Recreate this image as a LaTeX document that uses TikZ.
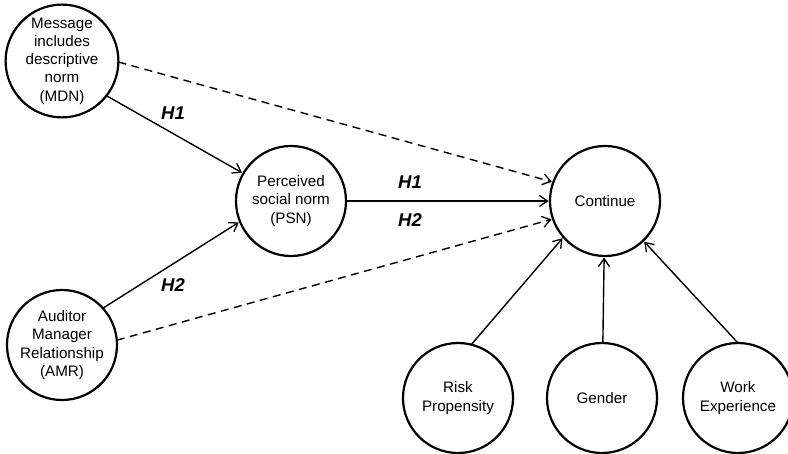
\documentclass[tikz,border=0pt]{standalone}
\usepackage{fontspec}
\setmainfont{Liberation Sans}
\usetikzlibrary{arrows.meta}
\begin{document}
\begin{tikzpicture}[x=1pt,y=-1pt,
  var/.style={circle,draw,line width=2.2pt,minimum size=110pt,inner sep=0pt,outer sep=0pt,align=center,font=\fontsize{15.2}{18.3}\selectfont},
  conn/.style={line width=1.4pt,-{Straight Barb[length=8pt,width=11pt,line width=1.3pt]},shorten >=1.5pt},
  dsh/.style={conn,dash pattern=on 8pt off 5.5pt},
  hyp/.style={font=\fontsize{18.5}{20}\selectfont\bfseries\itshape}]
\useasboundingbox (0,0) rectangle (788,454);

\node[var] (mdn) at (62,61) {Message\\includes\\descriptive\\norm\\(MDN)};
\node[var] (amr) at (62,345) {Auditor\\Manager\\Relationship\\(AMR)};
\node[var] (psn) at (291,201) {Perceived\\social norm\\(PSN)};
\node[var] (cont) at (605,201) {Continue};
\node[var] (risk) at (458,398) {Risk\\Propensity};
\node[var] (gen) at (602,398) {Gender};
\node[var] (work) at (738,398) {Work\\Experience};

\draw[dsh] (mdn.-1) -- (cont.160);
\draw[conn] (mdn.-38) -- (psn.150);
\draw[conn] (amr.42) -- (psn.202);
\draw[dsh] (amr.5) -- (cont.199);
\draw[conn] (psn) -- (cont);
\draw[conn] (risk.76) -- (cont.221);
\draw[conn] (gen) -- (cont);
\draw[conn] (work.90) -- (cont.-46);

\node[hyp] (h1a) at (173,113) {H1};
\node[hyp] (h2a) at (173,285) {H2};
\node[hyp] (h1b) at (410,182) {H1};
\node[hyp] (h2b) at (410,220) {H2};
\end{tikzpicture}
\end{document}
